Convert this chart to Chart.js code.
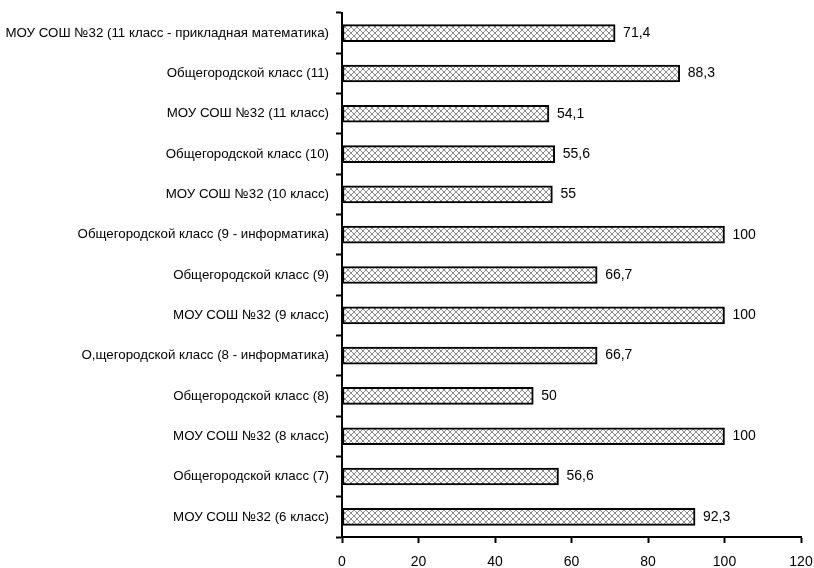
<!DOCTYPE html>
<html>
<head>
<meta charset="utf-8">
<script src="https://cdn.jsdelivr.net/npm/chart.js@4"></script>
<style>
  html, body { margin: 0; padding: 0; background: #fff; }
  #wrap { width: 814px; height: 568px; }
</style>
</head>
<body>
<div id="wrap"><canvas id="chart" width="814" height="568"></canvas></div>
<script>
const categories = [
    'МОУ СОШ №32 (11 класс - прикладная математика)',
    'Общегородской класс (11)',
    'МОУ СОШ №32 (11 класс)',
    'Общегородской класс (10)',
    'МОУ СОШ №32 (10 класс)',
    'Общегородской класс (9 - информатика)',
    'Общегородской класс (9)',
    'МОУ СОШ №32 (9 класс)',
    'О,щегородской класс (8 - информатика)',
    'Общегородской класс (8)',
    'МОУ СОШ №32 (8 класс)',
    'Общегородской класс (7)',
    'МОУ СОШ №32 (6 класс)'
];
const values = [71.4, 88.3, 54.1, 55.6, 55, 100, 66.7, 100, 66.7, 50, 100, 56.6, 92.3];
const xMin = 0, xMax = 120, xStep = 20;

const FONT = '"Liberation Sans", Arial, sans-serif';

// crosshatch fill like the original
function makeHatch() {
    const c = document.createElement('canvas');
    c.width = 6; c.height = 6;
    const g = c.getContext('2d');
    g.fillStyle = '#fff';
    g.fillRect(0, 0, 6, 6);
    g.strokeStyle = '#8a8a8a';
    g.lineWidth = 1;
    g.beginPath();
    g.moveTo(0, 0); g.lineTo(6, 6);
    g.moveTo(6, 0); g.lineTo(0, 6);
    g.stroke();
    return document.getElementById('chart').getContext('2d').createPattern(c, 'repeat');
}

// value labels to the right of each bar
const valueLabels = {
    id: 'valueLabels',
    afterDatasetsDraw(chart) {
        const ctx = chart.ctx;
        const meta = chart.getDatasetMeta(0);
        ctx.save();
        ctx.font = '14px ' + FONT;
        ctx.fillStyle = '#000';
        ctx.textAlign = 'left';
        ctx.textBaseline = 'middle';
        meta.data.forEach((bar, i) => {
            const txt = String(values[i]).replace('.', ',');
            ctx.fillText(txt, bar.x + 8, bar.y);
        });
        ctx.restore();
    }
};

new Chart(document.getElementById('chart'), {
    type: 'bar',
    data: {
        labels: categories,
        datasets: [{
            data: values,
            backgroundColor: makeHatch(),
            borderColor: '#000',
            borderWidth: 2,
            borderSkipped: false,
            barThickness: 17
        }]
    },
    options: {
        indexAxis: 'y',
        responsive: false,
        animation: false,
        layout: { padding: { top: 13, right: 13, left: 0, bottom: 0 } },
        plugins: {
            legend: { display: false },
            tooltip: { enabled: false }
        },
        scales: {
            x: {
                min: xMin,
                max: xMax,
                ticks: {
                    stepSize: xStep,
                    color: '#000',
                    font: { family: FONT, size: 14 },
                    padding: 11
                },
                grid: {
                    drawOnChartArea: false,
                    tickLength: 6,
                    tickColor: '#000',
                    tickWidth: 2
                },
                border: { color: '#000', width: 2 },
                afterFit(scale) {
                    scale.height = 31;
                    scale.paddingLeft = 0;
                    scale.paddingRight = 0;
                }
            },
            y: {
                ticks: {
                    color: '#000',
                    font: { family: FONT, size: 13.3 },
                    padding: 7,
                    autoSkip: false
                },
                grid: {
                    offset: true,
                    drawOnChartArea: false,
                    tickLength: 6,
                    tickColor: '#000',
                    tickWidth: 2
                },
                border: { color: '#000', width: 2 },
                afterFit(scale) {
                    scale.width = 342;
                    scale.paddingTop = 0;
                    scale.paddingBottom = 0;
                }
            }
        }
    },
    plugins: [valueLabels]
});
</script>
</body>
</html>
